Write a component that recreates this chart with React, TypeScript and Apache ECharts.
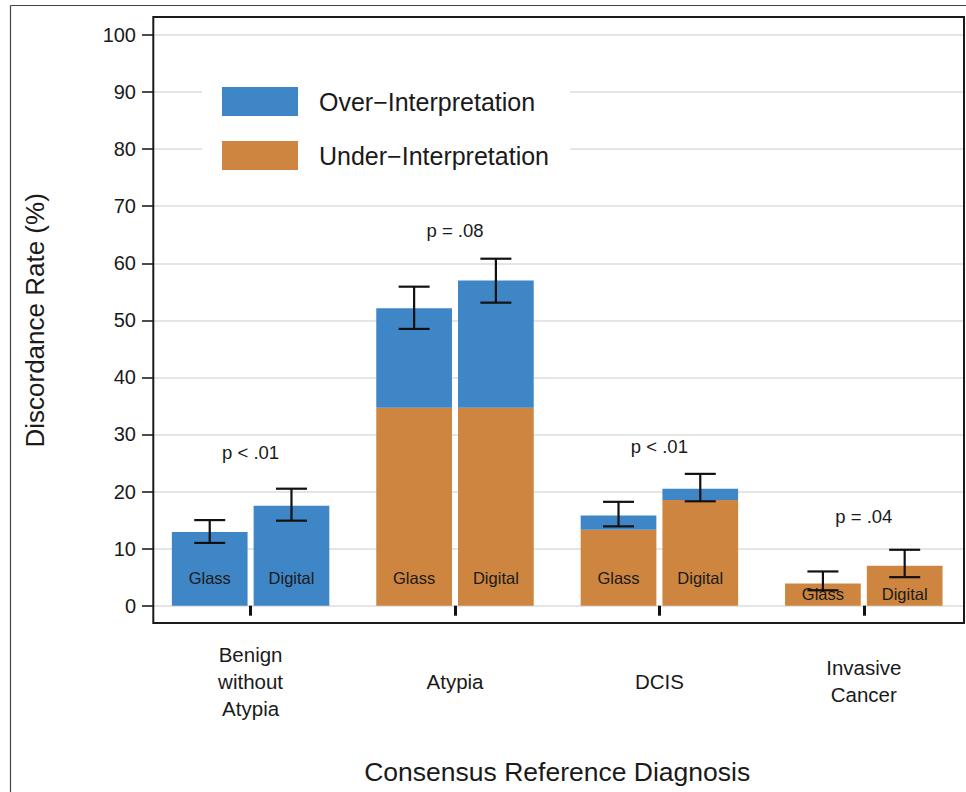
import React, { useEffect, useRef } from "react";
import * as echarts from "echarts";

const categories = ["Benign\nwithout\nAtypia", "Atypia", "DCIS", "Invasive\nCancer"];
const glassUnder = [0, 34.7, 13.3, 3.9];
const glassOver = [12.9, 17.4, 2.5, 0];
const digitalUnder = [0, 34.7, 18.5, 7.0];
const digitalOver = [17.5, 22.3, 2.0, 0];
const glassLow = [11.0, 48.5, 13.9, 2.7];
const glassHigh = [15.0, 55.9, 18.2, 6.0];
const digitalLow = [14.9, 53.1, 18.3, 5.0];
const digitalHigh = [20.5, 60.8, 23.1, 9.8];
const pLabels = ["p < .01", "p = .08", "p < .01", "p = .04"];
const pLabelY = [26.8, 65.8, 27.9, 15.7];
const barLabels = ["Glass", "Digital"];
const barLabelY = [4.9, 4.9, 4.9, 2.0];
const yTicks = [0, 10, 20, 30, 40, 50, 60, 70, 80, 90, 100];

const OVER = "Over\u2212Interpretation";
const UNDER = "Under\u2212Interpretation";
const BLUE = "#3E86C6";
const ORANGE = "#CD853F";
const FONT = "'Liberation Sans', Arial, Helvetica, sans-serif";
const BAR_W = 75.7;
const HALF = (BAR_W + 6.06) / 2;

export default function App() {
  const ref = useRef<HTMLDivElement>(null);
  useEffect(() => {
    if (!ref.current) return;
    const chart = echarts.init(ref.current, null, { renderer: "svg" });

    const errData: number[][] = [];
    categories.forEach((_, i) => {
      errData.push([i, glassLow[i], glassHigh[i], 0]);
      errData.push([i, digitalLow[i], digitalHigh[i], 1]);
    });
    const lblData: number[][] = [];
    categories.forEach((_, i) => {
      lblData.push([i, barLabelY[i], 0]);
      lblData.push([i, barLabelY[i], 1]);
    });
    const pData = categories.map((_, i) => [i, pLabelY[i], i]);

    const barBase = {
      type: "bar",
      xAxisIndex: 0,
      yAxisIndex: 0,
      barWidth: BAR_W,
      barGap: "8%",
    };

    const option: any = {
      animation: false,
      backgroundColor: "#fff",
      textStyle: { fontFamily: FONT },
      legend: {
        orient: "vertical",
        left: 202,
        top: 67,
        padding: [20, 21, 20, 20],
        backgroundColor: "#fff",
        itemWidth: 76,
        itemHeight: 29,
        itemGap: 25,
        selectedMode: false,
        textStyle: {
          fontSize: 25,
          color: "#1a1a1a",
          fontFamily: FONT,
          lineHeight: 29,
          padding: [0, 0, 0, 16],
        },
        data: [
          { name: OVER, icon: "rect" },
          { name: UNDER, icon: "rect" },
        ],
      },
      grid: [
        { left: 148.4, top: 35, width: 819.2, height: 570.7 },
        { left: 153, top: 35, width: 811, height: 570.7 },
      ],
      xAxis: [
        {
          type: "category",
          gridIndex: 0,
          data: categories,
          offset: 21.3,
          axisLine: { show: false },
          axisTick: {
            show: true,
            alignWithLabel: true,
            length: 10,
            lineStyle: { color: "#111", width: 3 },
          },
          axisLabel: {
            margin: 54,
            fontSize: 20.5,
            lineHeight: 27,
            color: "#1a1a1a",
            verticalAlign: "middle",
            fontFamily: FONT,
            interval: 0,
          },
          name: "Consensus Reference Diagnosis",
          nameLocation: "middle",
          nameGap: 145,
          nameTextStyle: {
            fontSize: 26.5,
            color: "#1a1a1a",
            verticalAlign: "middle",
            fontFamily: FONT,
          },
        },
        {
          type: "value",
          gridIndex: 1,
          show: false,
          min: 0,
          max: 1,
        },
      ],
      yAxis: [
        { type: "value", gridIndex: 0, min: 0, max: 100, show: false },
        {
          type: "value",
          gridIndex: 1,
          min: yTicks[0],
          max: yTicks[yTicks.length - 1],
          interval: 10,
          axisLine: { show: false },
          axisTick: {
            show: true,
            length: 11,
            lineStyle: { color: "#111", width: 1.5 },
          },
          axisLabel: {
            margin: 17,
            fontSize: 20,
            color: "#1a1a1a",
            fontFamily: FONT,
          },
          splitLine: { show: true, lineStyle: { color: "#dcdcdc", width: 1.6 } },
          name: "Discordance Rate (%)",
          nameLocation: "middle",
          nameGap: 118,
          nameRotate: 90,
          nameTextStyle: {
            fontSize: 26,
            color: "#1a1a1a",
            verticalAlign: "middle",
            fontFamily: FONT,
          },
        },
      ],
      graphic: [
        {
          type: "line",
          shape: { x1: 10.5, y1: 5.5, x2: 966, y2: 5.5 },
          style: { stroke: "#444", lineWidth: 1.2 },
          z: 100,
        },
        {
          type: "line",
          shape: { x1: 10.5, y1: 5.5, x2: 10.5, y2: 792 },
          style: { stroke: "#444", lineWidth: 1.2 },
          z: 100,
        },
        {
          type: "rect",
          shape: { x: 153.3, y: 17, width: 810.7, height: 606 },
          style: { fill: "none", stroke: "#1a1a1a", lineWidth: 2 },
          z: 100,
        },
      ],
      series: [
        { ...barBase, name: UNDER, stack: "glass", data: glassUnder, itemStyle: { color: ORANGE } },
        { ...barBase, name: UNDER, stack: "digital", data: digitalUnder, itemStyle: { color: ORANGE } },
        { ...barBase, name: OVER, stack: "glass", data: glassOver, itemStyle: { color: BLUE } },
        { ...barBase, name: OVER, stack: "digital", data: digitalOver, itemStyle: { color: BLUE } },
        {
          type: "custom",
          name: "labels",
          xAxisIndex: 0,
          yAxisIndex: 0,
          encode: { x: 0, y: 1 },
          data: lblData,
          z: 5,
          renderItem: (_p: any, api: any) => {
            const c = api.coord([api.value(0), api.value(1)]);
            const side = api.value(2);
            return {
              type: "text",
              x: c[0] + (side === 0 ? -HALF : HALF),
              y: c[1],
              style: {
                text: barLabels[side],
                fill: "#1a1a1a",
                fontSize: 16.5,
                fontFamily: FONT,
                align: "center",
                verticalAlign: "middle",
              },
            };
          },
        },
        {
          type: "custom",
          name: "errors",
          xAxisIndex: 0,
          yAxisIndex: 0,
          encode: { x: 0, y: [1, 2] },
          data: errData,
          z: 6,
          renderItem: (_p: any, api: any) => {
            const lo = api.coord([api.value(0), api.value(1)]);
            const hi = api.coord([api.value(0), api.value(2)]);
            const x = lo[0] + (api.value(3) === 0 ? -HALF : HALF);
            const st = { stroke: "#111", lineWidth: 2.2 };
            return {
              type: "group",
              children: [
                { type: "line", shape: { x1: x, y1: lo[1], x2: x, y2: hi[1] }, style: st },
                { type: "line", shape: { x1: x - 15.5, y1: lo[1], x2: x + 15.5, y2: lo[1] }, style: st },
                { type: "line", shape: { x1: x - 15.5, y1: hi[1], x2: x + 15.5, y2: hi[1] }, style: st },
              ],
            };
          },
        },
        {
          type: "custom",
          name: "pvalues",
          xAxisIndex: 0,
          yAxisIndex: 0,
          encode: { x: 0, y: 1 },
          data: pData,
          z: 5,
          renderItem: (_p: any, api: any) => {
            const c = api.coord([api.value(0), api.value(1)]);
            return {
              type: "text",
              x: c[0],
              y: c[1],
              style: {
                text: pLabels[api.value(2)],
                fill: "#1a1a1a",
                fontSize: 18.5,
                fontFamily: FONT,
                align: "center",
                verticalAlign: "middle",
              },
            };
          },
        },
      ],
    };
    chart.setOption(option);
    return () => chart.dispose();
  }, []);
  return (
    <div
      ref={ref}
      style={{ position: "fixed", left: 0, top: 0, width: 966, height: 792, background: "#fff" }}
    />
  );
}
